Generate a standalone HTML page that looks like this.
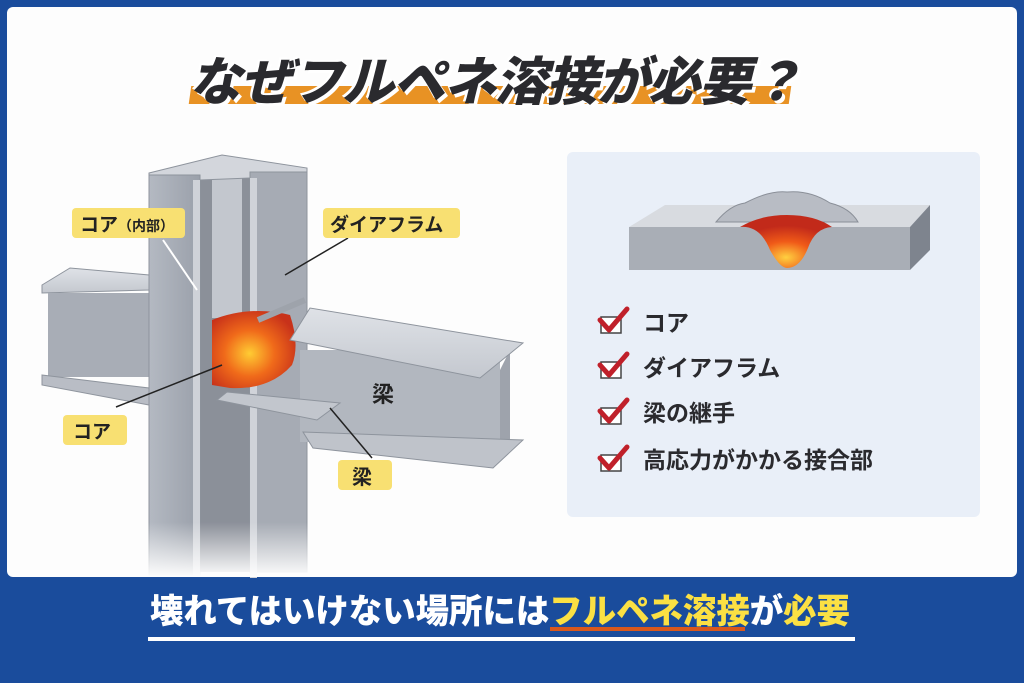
<!DOCTYPE html>
<html><head><meta charset="utf-8"><style>
body{margin:0;width:1024px;height:683px;background:#1a4c9c;overflow:hidden;font-family:"Liberation Sans","Noto Sans CJK JP",sans-serif}
.panel{position:absolute;left:7px;top:7px;width:1010px;height:570px;background:#fdfdfd;border-radius:6px}
.abs{position:absolute}
</style></head><body>
<div class="panel"></div>
<div class="abs" style="left:190px;top:86px;width:600px;height:18px;background:#e89224;transform:skewX(-8deg)"></div>
<div class="abs" style="left:0;top:40px;width:990px;text-align:center;font-size:52px;font-weight:900;color:#2a2a2e;font-style:italic;letter-spacing:-1px;text-shadow:3px 3px 0 #fff,-2px -2px 0 #fff">なぜフルペネ溶接が必要？</div>

<svg class="abs" style="left:0;top:0" width="1024" height="683">
<defs>
<linearGradient id="g1" x1="0" x2="1"><stop offset="0" stop-color="#b4b9c2"/><stop offset="1" stop-color="#9aa0aa"/></linearGradient>
<linearGradient id="g2" x1="0" x2="0" y1="0" y2="1"><stop offset="0" stop-color="#dfe2e7"/><stop offset="1" stop-color="#c4c8cf"/></linearGradient>
<linearGradient id="fade" x1="0" x2="0" y1="0" y2="1"><stop offset="0.6" stop-color="#fdfdfd" stop-opacity="0"/><stop offset="1" stop-color="#fdfdfd" stop-opacity="1"/></linearGradient>
<radialGradient id="hot" cx="0.45" cy="0.55" r="0.6"><stop offset="0" stop-color="#ffcc33"/><stop offset="0.5" stop-color="#f06a1a"/><stop offset="1" stop-color="#c8321a"/></radialGradient>
<radialGradient id="hot2" cx="0.5" cy="0.8" r="0.6"><stop offset="0" stop-color="#ffd040"/><stop offset="0.5" stop-color="#f05a18"/><stop offset="1" stop-color="#c22a1a"/></radialGradient>
</defs>
<rect x="567" y="152" width="413" height="365" rx="6" fill="#e9eff8"/>
<polygon points="629,227 665,205 930,205 910,227" fill="#d8dbe0"/>
<polygon points="910,227 930,205 930,250 910,270" fill="#7e848e"/>
<rect x="629" y="227" width="281" height="43" fill="#a9aeb6"/>
<path d="M716,222 Q730,205 745,203 Q770,190 787,192 Q810,190 830,203 Q850,208 858,222 Z" fill="#b8bcc4" stroke="#8a8f98"/>
<path d="M740,227 Q760,225 770,250 Q780,268 787,268 Q800,268 808,248 Q815,228 832,227 Q815,215 787,215 Q760,215 740,227Z" fill="url(#hot2)"/>
<g fill="#fff" stroke="#444" stroke-width="1.5">
<rect x="601" y="317" width="20" height="16"/><rect x="601" y="362" width="20" height="16"/><rect x="601" y="408" width="20" height="16"/><rect x="601" y="455" width="20" height="16"/>
</g>
<g fill="none" stroke="#c0202a" stroke-width="5" stroke-linecap="round" stroke-linejoin="round">
<polyline points="600,320 609,330 627,309"/><polyline points="600,365 609,375 627,354"/><polyline points="600,411 609,421 627,400"/><polyline points="600,458 609,468 627,447"/>
</g>
<g font-size="23" font-weight="bold" fill="#2a2a2e">
<text x="643" y="331">コア</text><text x="643" y="376">ダイアフラム</text><text x="643" y="421">梁の継手</text><text x="643" y="468">高応力がかかる接合部</text>
</g>

<polygon points="42,285 70,268 149,275 149,290 42,293" fill="url(#g2)" stroke="#8e949d"/>
<rect x="48" y="293" width="101" height="84" fill="#a8adb6"/>
<polygon points="42,375 149,388 149,405 42,385" fill="#b9bdc5" stroke="#8e949d"/>
<rect x="200" y="172" width="50" height="400" fill="#8b9099"/>
<rect x="212" y="178" width="30" height="140" fill="#c3c7ce"/>
<polygon points="149,173 222,155 307,168 307,178 250,178 200,180 149,180" fill="#d3d6dc" stroke="#8e949d"/>
<rect x="149" y="175" width="51" height="400" fill="url(#g1)" stroke="#8e949d"/>
<rect x="193" y="180" width="7" height="395" fill="#cfd2d8"/>
<rect x="250" y="172" width="57" height="400" fill="#a6abb4" stroke="#8e949d"/>
<rect x="250" y="178" width="7" height="400" fill="#d0d3d9"/>
<path d="M212,320 Q250,305 290,315 Q300,345 292,365 Q270,390 230,388 L212,385 Z" fill="url(#hot)"/>
<polyline points="258,320 305,300" stroke="#9ea3ab" stroke-width="6"/>
<rect x="300" y="350" width="200" height="92" fill="#b2b7bf"/>
<polygon points="500,370 510,350 510,440 500,445" fill="#9ea3ac"/>
<polygon points="290,340 310,308 523,343 480,378" fill="url(#g2)" stroke="#8e949d"/>
<polygon points="303,432 523,440 493,468 313,448" fill="#bfc3ca" stroke="#8e949d"/>
<polygon points="227,392 340,403 317,420 217,400" fill="#c2c6cd" stroke="#8e949d"/>
<rect x="140" y="440" width="180" height="137" fill="url(#fade)"/>
<line x1="163" y1="240" x2="197" y2="290" stroke="#fff" stroke-width="2"/>
<line x1="348" y1="238" x2="285" y2="275" stroke="#222" stroke-width="1.5"/>
<line x1="116" y1="407" x2="222" y2="365" stroke="#222" stroke-width="1.5"/>
<line x1="372" y1="458" x2="330" y2="408" stroke="#222" stroke-width="1.5"/>
<g fill="#f8e072"><rect x="72" y="208" width="113" height="30" rx="4"/><rect x="323" y="208" width="137" height="30" rx="4"/><rect x="63" y="415" width="64" height="30" rx="4"/><rect x="338" y="460" width="54" height="30" rx="4"/></g>
<g font-weight="bold" fill="#222">
<text x="80" y="231" font-size="19">コア<tspan font-size="14">（内部）</tspan></text>
<text x="330" y="231" font-size="19">ダイアフラム</text>
<text x="73" y="438" font-size="19">コア</text>
<text x="352" y="484" font-size="20">梁</text>
<text x="372" y="402" font-size="22">梁</text>
</g>
<rect x="550" y="627" width="195" height="4" fill="#d9581c"/>
<rect x="148" y="637" width="707" height="4" fill="#fff"/>
<text x="150" y="623" font-size="34" font-weight="900" fill="#fff" textLength="700" lengthAdjust="spacingAndGlyphs">壊れてはいけない場所には<tspan fill="#fbe043">フルペネ溶接</tspan>が<tspan fill="#fbe043">必要</tspan></text>
</svg>
</body></html>
